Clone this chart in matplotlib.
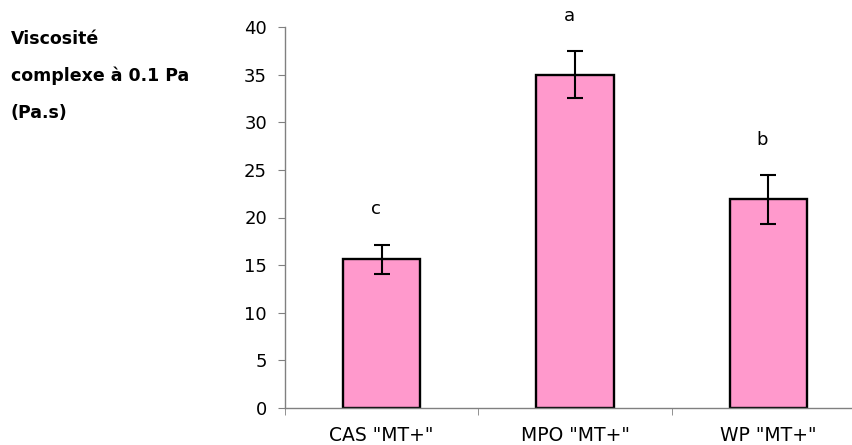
import matplotlib
matplotlib.use("Agg")
import matplotlib.pyplot as plt
import numpy as np

# the reference text is wide, DejaVu Sans is closer than Arial-like fonts
plt.rcParams['font.family'] = ['DejaVu Sans']

categories = ['CAS "MT+"', 'MPO "MT+"', 'WP "MT+"']
viscosite = [15.6, 35.0, 21.9]
erreur = [1.55, 2.45, 2.55]
lettres = ['c', 'a', 'b']
ylabel_lines = ['Viscosité', 'complexe à 0.1 Pa', '(Pa.s)']

W, H = 853, 445
fig = plt.figure(figsize=(W / 100, H / 100), dpi=100)
ax = fig.add_axes([285 / W, 37 / H, 580 / W, 381 / H])

x = np.arange(len(categories))
ax.bar(x, viscosite, width=0.4, color='#FF99CC', edgecolor='black', linewidth=1.7,
       yerr=erreur, error_kw=dict(ecolor='black', elinewidth=1.5, capsize=5.5, capthick=1.5))

for xi, v, e, l in zip(x, viscosite, erreur, lettres):
    ax.text(xi - 0.03, v + e + 3.7, l, ha='center', va='center', fontsize=13)

ax.set_xlim(-0.5, 2.5)
ax.set_ylim(0, 40)
ax.set_yticks(np.arange(0, 41, 5))
ax.set_xticks(x)
ax.set_xticklabels(categories)
ax.set_xticks(np.arange(-0.5, 3, 1), minor=True)
ax.tick_params(axis='x', which='major', length=0, pad=13, labelsize=13.5)
ax.tick_params(axis='x', which='minor', length=5, color='#808080', direction='out')
ax.tick_params(axis='y', length=5, color='#808080', pad=8, labelsize=13)

for s in ['top', 'right']:
    ax.spines[s].set_visible(False)
for s in ['left', 'bottom']:
    ax.spines[s].set_color('#808080')
    ax.spines[s].set_linewidth(1.0)

for i, line in enumerate(ylabel_lines):
    fig.text(11 / W, 1 - (44 + 37 * i) / H, line, fontsize=12.5, fontweight='bold',
             ha='left', va='baseline')

fig.savefig('out.png', dpi=100)
